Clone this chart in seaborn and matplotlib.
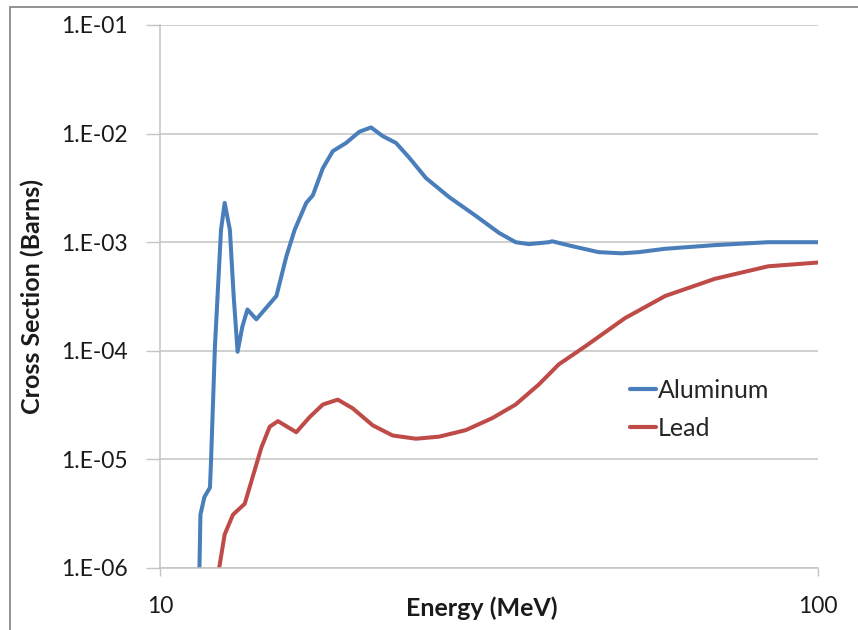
import numpy as np
import pandas as pd
import matplotlib
matplotlib.use("Agg")
import matplotlib.pyplot as plt
from matplotlib.patches import Rectangle
from matplotlib.ticker import FixedLocator, NullLocator
import seaborn as sns

# ---- data ----
al_energy = [11.48, 11.52, 11.68, 11.91, 11.95, 12.12, 12.38, 12.54, 12.77, 12.94,
             13.12, 13.34, 13.58, 14.01, 15.03, 15.56, 16.02, 16.68, 17.07, 17.68,
             18.31, 19.18, 20.09, 20.93, 21.79, 22.84, 23.92, 25.36, 27.51, 30.19,
             32.74, 34.71, 36.36, 38.98, 39.45, 42.27, 46.4, 50.3, 53.4, 58.6,
             69.7, 84.0, 100.0]
al_xs = [1.0e-6, 3.1e-6, 4.5e-6, 5.5e-6, 9.0e-6, 1.1e-4, 1.3e-3, 2.3e-3, 1.3e-3, 3.2e-4,
         9.8e-5, 1.67e-4, 2.4e-4, 1.95e-4, 3.2e-4, 7.4e-4, 1.3e-3, 2.3e-3, 2.7e-3, 4.8e-3,
         6.9e-3, 8.2e-3, 1.04e-2, 1.14e-2, 9.5e-3, 8.2e-3, 6.0e-3, 3.9e-3, 2.6e-3, 1.75e-3,
         1.22e-3, 1.0e-3, 9.6e-4, 1.0e-3, 1.02e-3, 9.2e-4, 8.1e-4, 7.9e-4, 8.1e-4, 8.7e-4,
         9.4e-4, 1.0e-3, 1.0e-3]

pb_energy = [12.30, 12.54, 12.91, 13.45, 13.77, 14.26, 14.68, 15.11, 16.11, 16.88,
             17.68, 18.63, 19.63, 21.05, 22.57, 24.48, 26.56, 29.15, 31.99, 34.71,
             37.65, 40.37, 44.3, 50.9, 58.6, 69.7, 84.0, 100.0]
pb_xs = [1.0e-6, 2.04e-6, 3.1e-6, 3.9e-6, 6.3e-6, 1.29e-5, 2.0e-5, 2.25e-5, 1.78e-5, 2.45e-5,
         3.2e-5, 3.55e-5, 2.95e-5, 2.06e-5, 1.66e-5, 1.55e-5, 1.62e-5, 1.86e-5, 2.4e-5, 3.2e-5,
         4.9e-5, 7.5e-5, 1.1e-4, 2.0e-4, 3.2e-4, 4.6e-4, 6.0e-4, 6.5e-4]

series_names = ["Aluminum", "Lead"]
y_ticks = [1e-6, 1e-5, 1e-4, 1e-3, 1e-2, 1e-1]
y_tick_labels = ["1.E-06", "1.E-05", "1.E-04", "1.E-03", "1.E-02", "1.E-01"]
x_ticks = [10, 100]
x_tick_labels = ["10", "100"]

df = pd.concat([
    pd.DataFrame({"Energy": al_energy, "XS": al_xs, "Material": series_names[0]}),
    pd.DataFrame({"Energy": pb_energy, "XS": pb_xs, "Material": series_names[1]}),
], ignore_index=True)

sns.set_theme(style="white")
plt.rcParams["font.family"] = ["Lato", "DejaVu Sans"]

W, H = 858, 630
fig = plt.figure(figsize=(W / 100, H / 100), dpi=100)
L, R, T, B = 160, 818, 25, 568
ax = fig.add_axes([L / W, 1 - B / H, (R - L) / W, (B - T) / H])

palette = {"Aluminum": "#4A7EBB", "Lead": "#BE4B48"}
sns.lineplot(data=df, x="Energy", y="XS", hue="Material", palette=palette,
             linewidth=2.9, ax=ax, sort=False, estimator=None)
for ln in ax.get_lines():
    ln.set_solid_joinstyle("round")
    ln.set_solid_capstyle("round")

ax.set_xscale("log")
ax.set_yscale("log")
ax.set_xlim(10, 100)
ax.set_ylim(1e-6, 1e-1)

ax.yaxis.set_major_locator(FixedLocator(y_ticks))
ax.yaxis.set_minor_locator(NullLocator())
ax.set_yticklabels(y_tick_labels)
ax.xaxis.set_major_locator(FixedLocator(x_ticks))
ax.xaxis.set_minor_locator(NullLocator())
ax.set_xticklabels(x_tick_labels)

ax.grid(axis="y", color="#C4C4C4", linewidth=1.1)
ax.grid(axis="x", visible=False)
for s in ["top", "right"]:
    ax.spines[s].set_visible(False)
for s in ["left", "bottom"]:
    ax.spines[s].set_color("#C4C4C4")
    ax.spines[s].set_linewidth(1.1)

ax.tick_params(axis="y", which="major", direction="out", length=10, width=1,
               color="#C4C4C4", labelsize=16.5, labelcolor="#1a1a1a", pad=13, left=True)
ax.tick_params(axis="x", which="major", direction="out", length=6, width=1,
               color="#C4C4C4", labelsize=16.5, labelcolor="#1a1a1a", pad=14, bottom=True)

ax.set_xlabel("Energy (MeV)", fontsize=18, fontweight="bold", color="#1a1a1a")
ax.xaxis.set_label_coords((482 - L) / (R - L), (B - 596) / (B - T))
ax.set_ylabel("Cross Section (Barns)", fontsize=18, fontweight="bold", color="#1a1a1a")
ax.yaxis.set_label_coords((44 - L) / (R - L), 0.5)

leg = ax.legend(loc="center left", bbox_to_anchor=(630 / W, 1 - 409 / H),
                bbox_transform=fig.transFigure, frameon=False,
                fontsize=18, handlelength=1.05, handletextpad=0.05, labelspacing=0.6,
                borderaxespad=0, borderpad=0)
for line in leg.get_lines():
    line.set_linewidth(3.0)

fig.patches.append(Rectangle((10 / W, -0.1), 1.2, 1.1 - 7 / H,
                             transform=fig.transFigure, fill=False,
                             edgecolor="#7F7F7F", linewidth=1.2))

fig.savefig("out.png", dpi=100)
